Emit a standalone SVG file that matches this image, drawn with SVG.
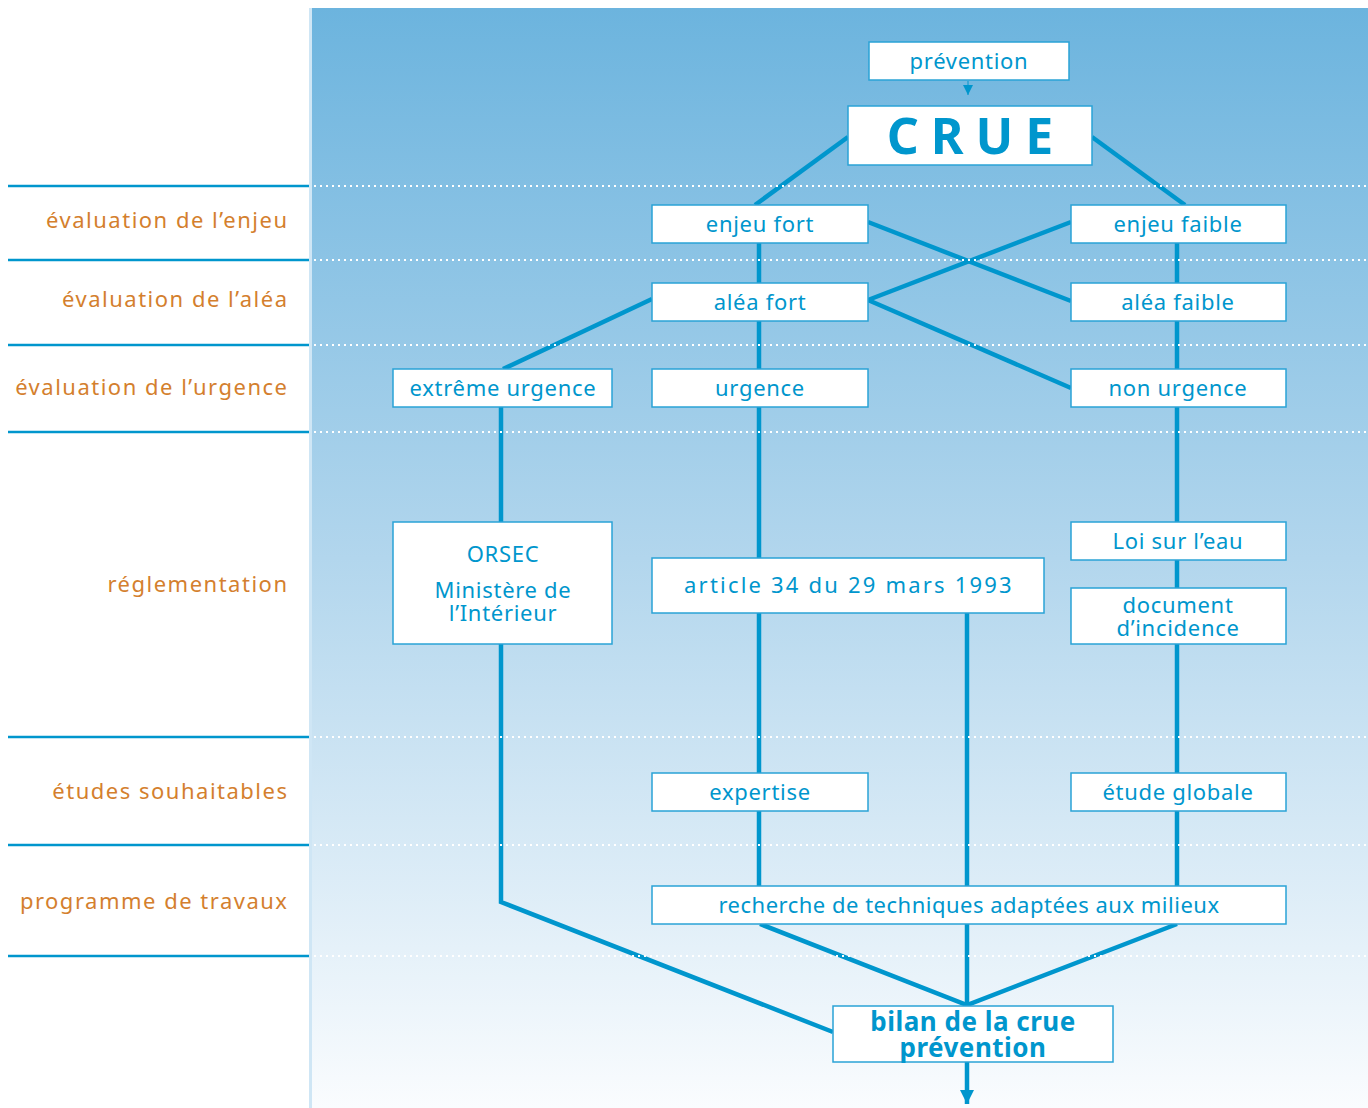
<svg xmlns="http://www.w3.org/2000/svg" width="1368" height="1108" viewBox="0 0 1368 1108">
<defs>
<linearGradient id="bg" x1="0" y1="0" x2="0" y2="1">
<stop offset="0" stop-color="#6cb4de"/>
<stop offset="0.5" stop-color="#b2d6ed"/>
<stop offset="1" stop-color="#fafcfe"/>
</linearGradient>
<marker id="arr" viewBox="0 0 10 10" refX="10" refY="5" markerWidth="14" markerHeight="10" markerUnits="userSpaceOnUse" orient="auto">
<path d="M0,0 L10,5 L0,10 z" fill="#0096cd"/>
</marker>
<marker id="arrBig" viewBox="0 0 10 10" refX="10" refY="5" markerWidth="22" markerHeight="14" markerUnits="userSpaceOnUse" orient="auto">
<path d="M0,0 L10,5 L0,10 z" fill="#0096cd"/>
</marker>
</defs>
<style>
.box{fill:#fff;stroke:#2aa3d6;stroke-width:1.5}
.t{font-family:"Noto Sans","Open Sans",sans-serif;font-size:22px;fill:#0096cd;text-anchor:middle;letter-spacing:0.7px}
.lab{font-family:"Noto Sans","Open Sans",sans-serif;font-size:22px;fill:#d47f2e;text-anchor:end;letter-spacing:1.5px}
.b{font-size:26px;font-weight:bold;letter-spacing:0.5px}
.c{fill:none;stroke:#0096cd;stroke-width:4.5}
.sep{stroke:#0096cd;stroke-width:2.5}
.dot{stroke:#ffffff;stroke-width:2;stroke-dasharray:2 4}
</style>
<rect x="0" y="0" width="1368" height="1108" fill="#ffffff"/>
<rect x="310" y="8" width="1058" height="1100" fill="url(#bg)"/>
<line x1="310.5" y1="8" x2="310.5" y2="1108" stroke="#cfe6f5" stroke-width="3"/>
<g id="separators">
<line class="sep" x1="8" y1="186" x2="309" y2="186"/>
<line class="sep" x1="8" y1="260" x2="309" y2="260"/>
<line class="sep" x1="8" y1="345" x2="309" y2="345"/>
<line class="sep" x1="8" y1="432" x2="309" y2="432"/>
<line class="sep" x1="8" y1="737" x2="309" y2="737"/>
<line class="sep" x1="8" y1="845" x2="309" y2="845"/>
<line class="sep" x1="8" y1="956" x2="309" y2="956"/>
</g>
<g id="labels">
<text class="lab" x="288.5" y="228">évaluation de l’enjeu</text>
<text class="lab" x="288.5" y="307">évaluation de l’aléa</text>
<text class="lab" x="288.5" y="395">évaluation de l’urgence</text>
<text class="lab" x="288.5" y="592">réglementation</text>
<text class="lab" x="288.5" y="799">études souhaitables</text>
<text class="lab" x="288.5" y="909">programme de travaux</text>
</g>
<g id="connectors">
<path d="M968,81 L968,95" stroke="#0096cd" stroke-width="1" marker-end="url(#arr)"/>
<line class="c" x1="848" y1="137" x2="755" y2="205"/>
<line class="c" x1="1092" y1="137" x2="1185" y2="205"/>
<line class="c" x1="868" y1="222" x2="1071" y2="301"/>
<line class="c" x1="1071" y1="222" x2="868" y2="300"/>
<line class="c" x1="868" y1="300" x2="1071" y2="388"/>
<line class="c" x1="652" y1="299" x2="503" y2="369"/>
<path class="c" d="M759,243 V283 M759,321 V369 M759,407 V558 M759,613 V773 M759,811 V886"/>
<path class="c" d="M1177,243 V283 M1177,321 V369 M1177,407 V522 M1177,560 V588 M1177,644 V773 M1177,811 V886"/>
<path class="c" d="M501,407 V522 M501,644 V902 L833,1032"/>
<path class="c" d="M967,613 V886 M967,924 V1006"/>
<path class="c" d="M760,924 L967,1005 L1177,924"/>
<path d="M967,1062 V1104" stroke="#0096cd" stroke-width="4.5" marker-end="url(#arrBig)"/>
</g>
<g id="dots">
<line class="dot" x1="314" y1="186" x2="1368" y2="186"/>
<line class="dot" x1="314" y1="260" x2="1368" y2="260"/>
<line class="dot" x1="314" y1="345" x2="1368" y2="345"/>
<line class="dot" x1="314" y1="432" x2="1368" y2="432"/>
<line class="dot" x1="314" y1="737" x2="1368" y2="737"/>
<line class="dot" x1="314" y1="845" x2="1368" y2="845"/>
<line class="dot" x1="314" y1="956" x2="1368" y2="956"/>
</g>
<g id="n-prevention"><rect class="box" x="869" y="42" width="200" height="38"/><text class="t" x="969" y="69">prévention</text></g>
<g id="n-crue"><rect class="box" x="848" y="106" width="244" height="59"/><text x="976" y="154" font-family="'Noto Sans','Open Sans',sans-serif" font-size="50" font-weight="bold" fill="#0096cd" text-anchor="middle" letter-spacing="12">CRUE</text></g>
<g id="n-enjeu-fort"><rect class="box" x="652" y="205" width="216" height="38"/><text class="t" x="760" y="232">enjeu fort</text></g>
<g id="n-enjeu-faible"><rect class="box" x="1071" y="205" width="215" height="38"/><text class="t" x="1178" y="232">enjeu faible</text></g>
<g id="n-alea-fort"><rect class="box" x="652" y="283" width="216" height="38"/><text class="t" x="760" y="310">aléa fort</text></g>
<g id="n-alea-faible"><rect class="box" x="1071" y="283" width="215" height="38"/><text class="t" x="1178" y="310">aléa faible</text></g>
<g id="n-extreme-urgence"><rect class="box" x="393" y="369" width="219" height="38"/><text class="t" x="503" y="396">extrême urgence</text></g>
<g id="n-urgence"><rect class="box" x="652" y="369" width="216" height="38"/><text class="t" x="760" y="396">urgence</text></g>
<g id="n-non-urgence"><rect class="box" x="1071" y="369" width="215" height="38"/><text class="t" x="1178" y="396">non urgence</text></g>
<g id="n-orsec"><rect class="box" x="393" y="522" width="219" height="122"/><text class="t" x="503" y="562">ORSEC</text><text class="t" x="503" y="598">Ministère de</text><text class="t" x="503" y="621">l’Intérieur</text></g>
<g id="n-article"><rect class="box" x="652" y="558" width="392" height="55"/><text class="t" x="849" y="593" style="letter-spacing:2.2px">article 34 du 29 mars 1993</text></g>
<g id="n-loi"><rect class="box" x="1071" y="522" width="215" height="38"/><text class="t" x="1178" y="549">Loi sur l’eau</text></g>
<g id="n-document"><rect class="box" x="1071" y="588" width="215" height="56"/><text class="t" x="1178" y="613">document</text><text class="t" x="1178" y="636">d’incidence</text></g>
<g id="n-expertise"><rect class="box" x="652" y="773" width="216" height="38"/><text class="t" x="760" y="800">expertise</text></g>
<g id="n-etude"><rect class="box" x="1071" y="773" width="215" height="38"/><text class="t" x="1178" y="800">étude globale</text></g>
<g id="n-recherche"><rect class="box" x="652" y="886" width="634" height="38"/><text class="t" x="969" y="913" style="letter-spacing:0.5px">recherche de techniques adaptées aux milieux</text></g>
<g id="n-bilan"><rect class="box" x="833" y="1006" width="280" height="56"/><text class="t b" x="973" y="1031">bilan de la crue</text><text class="t b" x="973" y="1057">prévention</text></g>
</svg>
